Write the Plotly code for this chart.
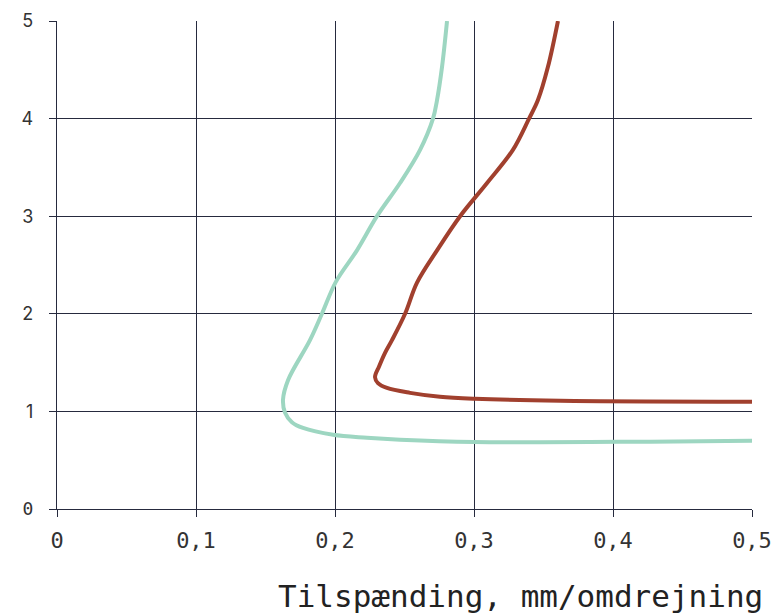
import plotly.graph_objects as go

# Teal curve
teal_x = [0.2806, 0.277, 0.2734, 0.2705, 0.2612, 0.2468, 0.2302, 0.2158, 0.2007, 0.1906,
          0.182, 0.1662, 0.1626, 0.164, 0.169, 0.177, 0.1986, 0.223,
          0.2468, 0.30, 0.4266, 0.5]
teal_y = [5.0, 4.53, 4.19, 4.0, 3.68, 3.34, 3.0, 2.65, 2.33, 2.0,
          1.73, 1.32, 1.12, 0.99, 0.89, 0.83, 0.76, 0.73,
          0.71, 0.686, 0.69, 0.70]

# Red curve
red_x = [0.3604, 0.3532, 0.346, 0.3396, 0.328, 0.3094, 0.29, 0.2734, 0.259,
         0.2504, 0.241, 0.236, 0.2317, 0.2288, 0.2309, 0.2374, 0.254, 0.2755, 0.3007,
         0.362, 0.5]
red_y = [5.0, 4.53, 4.19, 4.0, 3.68, 3.34, 3.0, 2.65, 2.32,
         2.0, 1.73, 1.6, 1.46, 1.35, 1.29, 1.24, 1.19, 1.15, 1.13,
         1.11, 1.10]

x_ticks = [0, 0.1, 0.2, 0.3, 0.4, 0.5]
x_labels = ["0", "0,1", "0,2", "0,3", "0,4", "0,5"]
y_ticks = [0, 1, 2, 3, 4, 5]
y_labels = ['<span style="font-family:DejaVu Sans Mono">0</span>', "1", "2", "3", "4", "5"]

x_title = "Tilspænding, mm/omdrejning"

TEAL = "#9dd6c1"
RED = "#a1402e"
GRID = "#262a3e"
MONO = "DejaVu Sans Mono"

fig = go.Figure()
fig.add_trace(go.Scatter(x=teal_x, y=teal_y, mode="lines",
                         line=dict(color=TEAL, width=4, shape="spline", smoothing=1.0),
                         showlegend=False, hoverinfo="skip"))
fig.add_trace(go.Scatter(x=red_x, y=red_y, mode="lines",
                         line=dict(color=RED, width=4, shape="spline", smoothing=1.0),
                         showlegend=False, hoverinfo="skip"))

fig.update_layout(
    width=779, height=614,
    margin=dict(l=57, r=27, t=21, b=105, autoexpand=False),
    paper_bgcolor="white", plot_bgcolor="white",
    xaxis=dict(range=[0, 0.5], tickvals=x_ticks, ticktext=x_labels,
               automargin=False,
               showgrid=True, gridcolor=GRID, gridwidth=1.3,
               zeroline=False, showline=True, linecolor=GRID, linewidth=1.3,
               ticks="outside", ticklen=7, tickcolor=GRID, tickwidth=1.3,
               tickfont=dict(family=MONO, size=22, color="#333333"),
               ticklabelstandoff=4),
    yaxis=dict(range=[0, 5], tickvals=y_ticks, ticktext=y_labels,
               automargin=False,
               showgrid=True, gridcolor=GRID, gridwidth=1.3,
               zeroline=False, showline=True, linecolor=GRID, linewidth=1.3,
               ticks="outside", ticklen=7, tickcolor=GRID, tickwidth=1.3,
               tickfont=dict(family="Inter", size=18, color="#333333"),
               ticklabelstandoff=12),
)

fig.add_annotation(text=x_title, xref="paper", yref="paper", x=1.0, y=0,
                   xanchor="right", yanchor="middle", xshift=13, yshift=-87,
                   showarrow=False,
                   font=dict(family=MONO, size=31, color="#222222"))

fig.write_html("out.html")
